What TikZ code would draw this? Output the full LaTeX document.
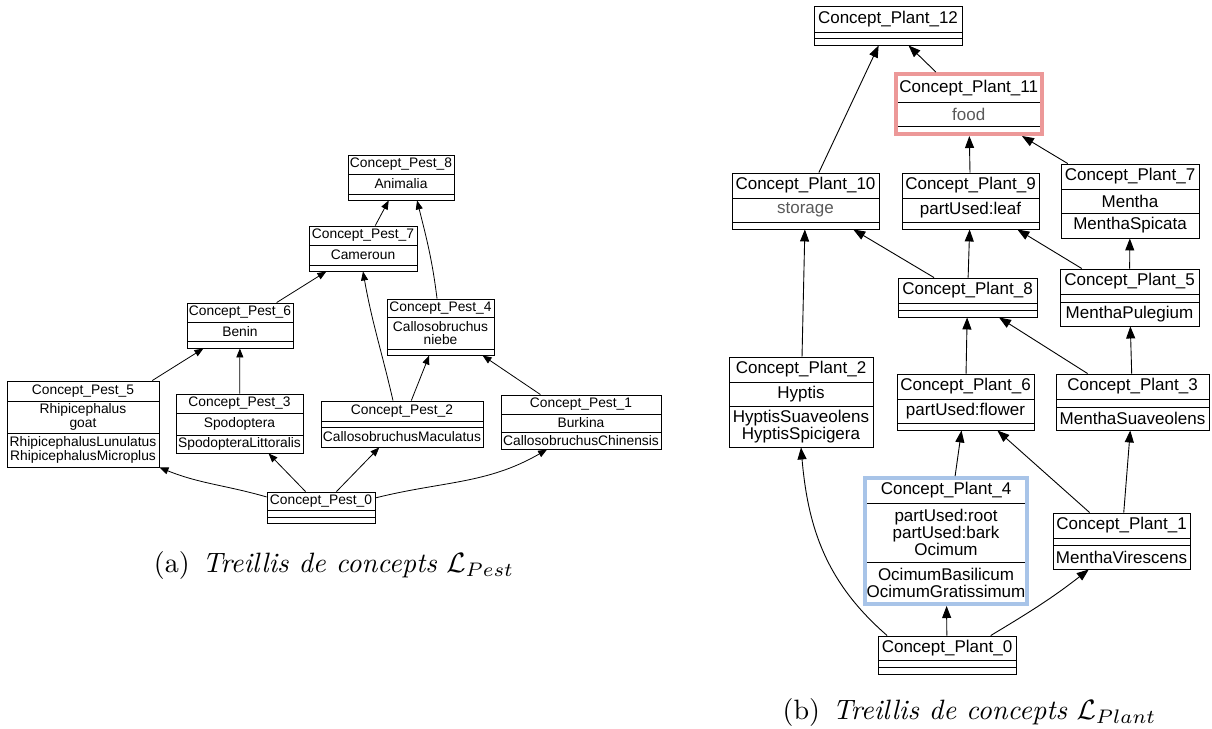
\documentclass[tikz,border=0pt]{standalone}
\usepackage{fontspec}
\newfontfamily\boxfont{Liberation Sans}
\usetikzlibrary{arrows.meta,fit,calc}

\definecolor{attrgray}{gray}{0.35}
\definecolor{hlred}{RGB}{236,152,152}
\definecolor{hlblue}{RGB}{168,196,232}

\tikzset{
  cframe/.style={draw=black, line width=0.9pt, inner sep=0pt},
  sepline/.style={draw=black, line width=0.9pt},
  ctxt/.style={inner sep=0pt, align=center},
  smalltxt/.style={font=\boxfont\fontsize{13.8}{13.2}\selectfont},
  bigtxt/.style={font=\boxfont\fontsize{17}{16.8}\selectfont},
  arrS/.style={-{Triangle[length=9pt,width=7pt]}, line width=0.8pt},
  arrL/.style={-{Triangle[length=12pt,width=9pt]}, line width=0.9pt},
  captext/.style={inner sep=0pt, font=\fontsize{10}{12}\selectfont, scale=2.8, transform shape},
}

% concept box: [frame style] name, x-left, x-right, y-top, first rule, second rule, y-bottom
\newcommand\concept[8][]{%
  \draw[sepline] (#3,#6) -- (#4,#6);
  \draw[sepline] (#3,#7) -- (#4,#7);
  \node[cframe,#1,fit={(#3,#5)(#4,#8)}] (#2) {};
  \coordinate (#2-t) at ({(#3+#4)/2},{(#5+#6)/2});
  \coordinate (#2-a) at ({(#3+#4)/2},{(#6+#7)/2});
  \coordinate (#2-o) at ({(#3+#4)/2},{(#7+#8)/2});
}
% texts of a concept box: name, text style, title, attributes, objects
\newcommand\ctext[5]{%
  \node[ctxt,#2] (#1-title) at (#1-t) {#3};
  \node[ctxt,#2] (#1-attr) at (#1-a) {#4};
  \node[ctxt,#2] (#1-obj) at (#1-o) {#5};
}

\begin{document}
\begin{tikzpicture}[x=1pt,y=-1pt]
\useasboundingbox (0,0) rectangle (1212,728);

% ---------- lattice of pests ----------
\concept{pest8}{348}{454}{155}{174}{194}{200}
\concept{pest7}{309}{417}{226}{245}{265}{271}
\concept{pest6}{187}{293}{303}{322}{341}{348}
\concept{pest4}{387}{494}{299}{317}{349}{355}
\concept{pest5}{7}{159}{381}{401}{433}{467}
\concept{pest3}{176}{303}{394}{413}{435}{453}
\concept{pest2}{321}{483}{401}{421}{427}{447}
\concept{pest1}{501}{661}{395}{414}{432}{449}
\concept{pest0}{267}{375}{492}{510}{517}{523}

\ctext{pest8}{smalltxt}{Concept\_Pest\_8}{Animalia}{}
\ctext{pest7}{smalltxt}{Concept\_Pest\_7}{Cameroun}{}
\ctext{pest6}{smalltxt}{Concept\_Pest\_6}{Benin}{}
\ctext{pest4}{smalltxt}{Concept\_Pest\_4}{Callosobruchus\\niebe}{}
\ctext{pest5}{smalltxt}{Concept\_Pest\_5}{Rhipicephalus\\goat}{RhipicephalusLunulatus\\RhipicephalusMicroplus}
\ctext{pest3}{smalltxt}{Concept\_Pest\_3}{Spodoptera}{SpodopteraLittoralis}
\ctext{pest2}{smalltxt}{Concept\_Pest\_2}{}{CallosobruchusMaculatus}
\ctext{pest1}{smalltxt}{Concept\_Pest\_1}{Burkina}{CallosobruchusChinensis}
\ctext{pest0}{smalltxt}{Concept\_Pest\_0}{}{}

\draw[arrS] (pest7) -- (pest8);
\draw[arrS] (pest4.97) to[out=97,in=-76] (pest8.-55);
\draw[arrS] (pest6) -- (pest7);
\draw[arrS] (pest2.111) to[out=103,in=-80] (pest7.south);
\draw[arrS] (pest2) -- (pest4);
\draw[arrS] (pest5) -- (pest6);
\draw[arrS] (pest3) -- (pest6);
\draw[arrS] (pest1) -- (pest4);
\draw[arrS] (pest0.169) to[out=164,in=-22] (pest5.south east);
\draw[arrS] (pest0) -- (pest3);
\draw[arrS] (pest0) -- (pest2);
\draw[arrS] (pest0.10) to[out=14,in=-150] (pest1.-141);

\node[captext, anchor=base] (capa) at (334,572)
  {(a)\hspace{0.45em}\textit{Treillis de concepts} $\mathcal{L}_{Pest}$};

% ---------- lattice of plants ----------
\concept{pl12}{814}{962}{6}{32}{38}{45}
\concept[draw=hlred, line width=4pt]{pl11}{896}{1041.5}{74}{102}{126}{134}
\concept{pl10}{732}{879}{173}{198}{222}{229}
\concept{pl9}{902}{1039}{173}{198}{222}{229}
\concept{pl7}{1061}{1199}{164}{189}{213}{238}
\concept{pl8}{898}{1037}{278}{303}{310}{317}
\concept{pl5}{1060}{1199}{269}{294}{302}{326}
\concept{pl2}{729}{873}{357}{382}{406}{447}
\concept{pl6}{897}{1034}{374}{399}{423}{430}
\concept{pl3}{1056}{1209}{374}{399}{407}{430}
\concept[draw=hlblue, line width=4pt]{pl4}{865}{1027}{478}{503}{562}{604}
\concept{pl1}{1053}{1190}{513}{538}{545}{569}
\concept{pl0}{878}{1016}{636}{660}{667}{674}

\ctext{pl12}{bigtxt}{Concept\_Plant\_12}{}{}
\ctext{pl11}{bigtxt}{Concept\_Plant\_11}{\textcolor{attrgray}{food}}{}
\ctext{pl10}{bigtxt}{Concept\_Plant\_10}{\textcolor{attrgray}{storage}}{}
\ctext{pl9}{bigtxt}{Concept\_Plant\_9}{partUsed:leaf}{}
\ctext{pl7}{bigtxt}{Concept\_Plant\_7}{Mentha}{MenthaSpicata}
\ctext{pl8}{bigtxt}{Concept\_Plant\_8}{}{}
\ctext{pl5}{bigtxt}{Concept\_Plant\_5}{}{MenthaPulegium}
\ctext{pl2}{bigtxt}{Concept\_Plant\_2}{Hyptis}{HyptisSuaveolens\\HyptisSpicigera}
\ctext{pl6}{bigtxt}{Concept\_Plant\_6}{partUsed:flower}{}
\ctext{pl3}{bigtxt}{Concept\_Plant\_3}{}{MenthaSuaveolens}
\ctext{pl4}{bigtxt}{Concept\_Plant\_4}{partUsed:root\\partUsed:bark\\Ocimum}{OcimumBasilicum\\OcimumGratissimum}
\ctext{pl1}{bigtxt}{Concept\_Plant\_1}{}{MenthaVirescens}
\ctext{pl0}{bigtxt}{Concept\_Plant\_0}{}{}

\draw[arrL] (pl10) -- (pl12);
\draw[arrL] (pl11) -- (pl12);
\draw[arrL] (pl9) -- (pl11);
\draw[arrL] (pl7) -- (pl11);
\draw[arrL] (pl8) -- (pl10);
\draw[arrL] (pl8) -- (pl9);
\draw[arrL] (pl5) -- (pl9);
\draw[arrL] (pl5) -- (pl7);
\draw[arrL] (pl2) -- (pl10);
\draw[arrL] (pl6) -- (pl8);
\draw[arrL] (pl3) -- (pl8);
\draw[arrL] (pl3) -- (pl5);
\draw[arrL] (pl4) -- (pl6);
\draw[arrL] (pl1) -- (pl6);
\draw[arrL] (pl1) -- (pl3);
\draw[arrL] (pl0.162) to[out=139,in=-85] (pl2.south);
\draw[arrL] (pl0) -- (pl4);
\draw[arrL] (pl0.24) to[out=31,in=-142] (pl1.-139);

\node[captext, anchor=base] (capb) at (969.5,719)
  {(b)\hspace{0.45em}\textit{Treillis de concepts} $\mathcal{L}_{Plant}$};
\end{tikzpicture}
\end{document}
